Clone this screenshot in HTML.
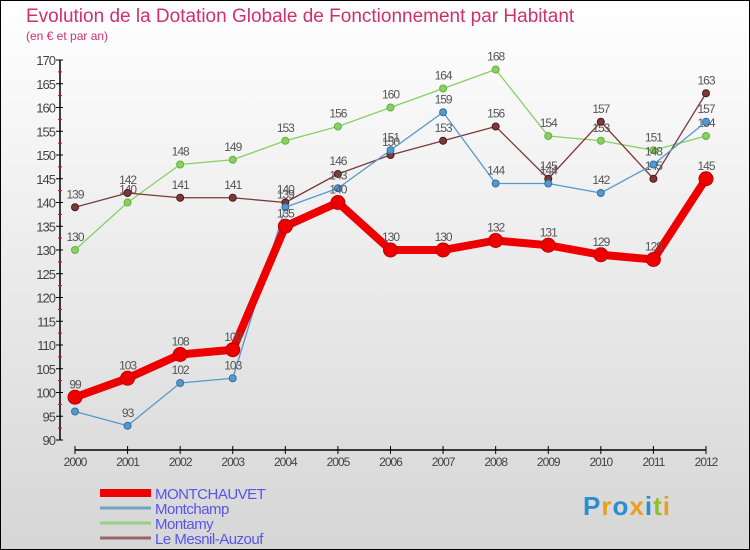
<!DOCTYPE html>
<html><head><meta charset="utf-8"><style>
body{margin:0;width:750px;height:550px;overflow:hidden;font-family:"Liberation Sans",sans-serif}
#wrap{position:absolute;left:0;top:0;width:748px;height:548px;border:1px solid #000;background:linear-gradient(#ffffff,#d6d6d6)}
</style></head><body>
<div id="wrap">
<svg id="svg" width="750" height="550" style="position:absolute;left:-1px;top:-1px">
<text x="26" y="22" font-size="19" fill="#d0306a">Evolution de la Dotation Globale de Fonctionnement par Habitant</text>
<text x="26" y="40" font-size="12" fill="#d0306a">(en € et par an)</text>
</svg>
</div>
<script>
const years=[2000,2001,2002,2003,2004,2005,2006,2007,2008,2009,2010,2011,2012];
const montchauvet=[99,103,108,109,135,140,130,130,132,131,129,128,145];
const montchamp=[96,93,102,103,139,143,151,159,144,144,142,148,157];
const montamy=[130,140,148,149,153,156,160,164,168,154,153,151,154];
const mesnil=[139,142,141,141,140,146,150,153,156,145,157,145,163];
const yTicks=[90,95,100,105,110,115,120,125,130,135,140,145,150,155,160,165,170];
const seriesNames=["MONTCHAUVET","Montchamp","Montamy","Le Mesnil-Auzouf"];
const NS="http://www.w3.org/2000/svg";
const svg=document.getElementById('svg');
const X=i=>75+i*(706-75)/(years.length-1);
const Y=v=>440-(v-90)*(380/80);
function el(t,a,p){const e=document.createElementNS(NS,t);for(const k in a)e.setAttribute(k,a[k]);(p||svg).appendChild(e);return e;}
// axes
let ax=el('line',{x1:60,y1:60,x2:60,y2:440,stroke:'#000','stroke-width':1.5});


yTicks.forEach(v=>{
 el('line',{x1:56,x2:63,y1:Y(v),y2:Y(v),stroke:'#000'});
 if(v<170) el('line',{x1:58,x2:62,y1:Y(v+2.5),y2:Y(v+2.5),stroke:'#e00'});
 const t=el('text',{x:55,y:Y(v)+5,'text-anchor':'end','font-size':13,fill:'#444','letter-spacing':'-1'});
 t.textContent=v;
 
 
});
let xa=el('line',{x1:75,y1:450,x2:706,y2:450,stroke:'#000','stroke-width':1.5});


years.forEach((y,i)=>{
 el('line',{x1:X(i),x2:X(i),y1:446,y2:454,stroke:'#000'});
 const t=el('text',{x:X(i),y:466,'text-anchor':'middle','font-size':12,fill:'#444','letter-spacing':'-1'});
 t.textContent=y;
 
 
});
function series(data,color,w,r,name,dark){
 const g=el('g',{});
 
 
 el('polyline',{points:data.map((v,i)=>X(i)+','+Y(v)).join(' '),fill:'none',stroke:color,'stroke-width':w,'stroke-linejoin':'round'},g);
 data.forEach((v,i)=>{
  const c=el('circle',{cx:X(i),cy:Y(v),r:r,fill:color,stroke:dark,'stroke-width':1},g);
  
  
  const t=el('text',{x:X(i),y:Y(v)-9,'text-anchor':'middle','font-size':12,fill:'#555','letter-spacing':'-1'},g);
  t.textContent=v;
  
  
 });
}
series(montamy,'#88d060',1.3,3.5,'series-montamy','#66b040');
series(mesnil,'#7a3a3a',1.3,3.5,'series-le-mesnil-auzouf','#501818');
series(montchamp,'#5599cc',1.3,3.5,'series-montchamp','#2f70a8');
series(montchauvet,'#ee0000',8,7,'series-montchauvet','#bb0000');
// legend
const lc=['#ee0000','#6fa3c8','#98d080','#996666'],lw=[8,3,3,3];
seriesNames.forEach((n,i)=>{
 const y=493+i*15;
 const g=el('g',{});
 
 
 el('line',{x1:100,x2:151,y1:y,y2:y,stroke:lc[i],'stroke-width':lw[i]},g);
 const t=el('text',{x:155,y:y+6,'font-size':15,fill:'#5555ee','letter-spacing':'-0.5'},g);
 t.textContent=n;
});
// logo
const lg=el('text',{x:583,y:515,'font-size':26,'font-weight':'bold','letter-spacing':'1'});


[['P','#2a8fd0'],['r','#e8a020'],['o','#2a8fd0'],['x','#e8a020'],['i','#2a8fd0'],['t','#90c030'],['i','#e8a020']].forEach(([c,f])=>{const s=el('tspan',{fill:f},lg);s.textContent=c;});
</script>
</body></html>
